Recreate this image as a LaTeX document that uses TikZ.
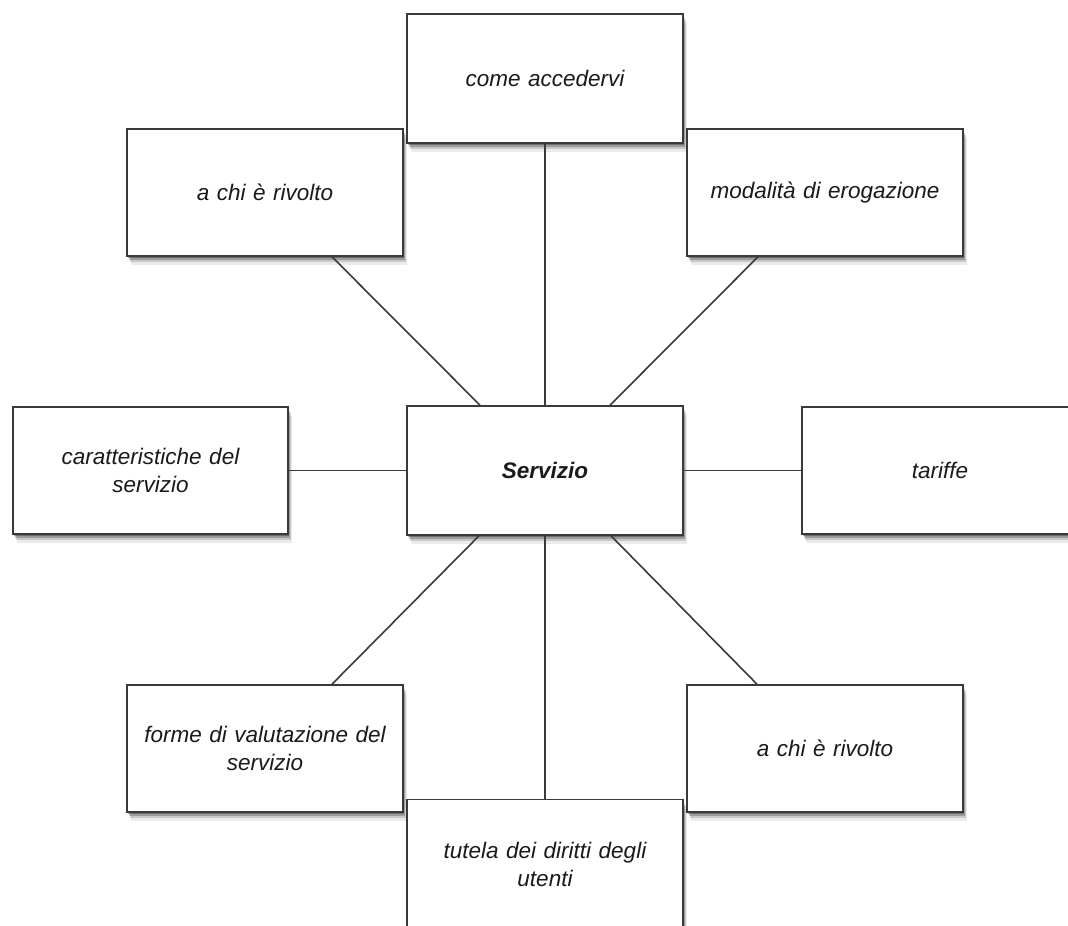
\documentclass[tikz,border=0pt]{standalone}
\usepackage{fontspec}
\setmainfont{Liberation Sans}
\usetikzlibrary{shadows}
\definecolor{edgegray}{HTML}{3A3A3A}
\definecolor{txt}{HTML}{1A1A1A}
\begin{document}
\begin{tikzpicture}[x=1pt,y=-1pt,
  softshadow/.style={
    drop shadow={shadow xshift=1pt, shadow yshift=-2pt, opacity=0.30, fill=black},
    drop shadow={shadow xshift=2pt, shadow yshift=-4pt, opacity=0.22, fill=black},
    drop shadow={shadow xshift=3pt, shadow yshift=-6pt, opacity=0.15, fill=black},
    drop shadow={shadow xshift=4pt, shadow yshift=-9pt, opacity=0.08, fill=black}},
  box/.style={draw=edgegray, line width=1.6pt, fill=white,
    minimum width=276pt, minimum height=127pt, inner sep=0pt,
    text width=250pt, align=center, text=txt,
    font=\fontsize{22.5}{28}\selectfont\itshape, softshadow},
  link/.style={draw=edgegray, line width=1.6pt}]
\useasboundingbox (0,0) rectangle (1068,926);
\begin{scope}
\clip (0,0) rectangle (1068,926);
% nodes
\node[box, minimum height=129pt] (come) at (545,78.5) {come accedervi};
\node[box] (tl) at (265,192.5) {a chi è rivolto};
\node[box] (tr) at (825,192.5) {modalità di erogazione};
\node[box, minimum width=275pt] (left) at (150.5,470.5) {caratteristiche del\\servizio};
\node[box, minimum height=129pt] (serv) at (545,470.5) {\bfseries Servizio};
\node[box] (tar) at (940,470.5) {tariffe};
\node[box] (bl) at (265,748.5) {forme di valutazione del\\servizio};
\node[box] (br) at (825,748.5) {a chi è rivolto};
\node[box, minimum height=129pt] (tut) at (545,864) {tutela dei diritti degli\\utenti};
% connectors
\draw[link] (serv.north) -- (come.south);
\draw[link] ([xshift=-65pt]serv.north) -- ([xshift=67pt]tl.south);
\draw[link] ([xshift=65pt]serv.north) -- ([xshift=-67pt]tr.south);
\draw[link] (serv.west) -- (left.east);
\draw[link] (serv.east) -- (tar.west);
\draw[link] ([xshift=-66pt]serv.south) -- ([xshift=67pt]bl.north);
\draw[link] ([xshift=66pt]serv.south) -- ([xshift=-68pt]br.north);
\draw[link] (serv.south) -- (tut.north);
\end{scope}
\end{tikzpicture}
\end{document}
